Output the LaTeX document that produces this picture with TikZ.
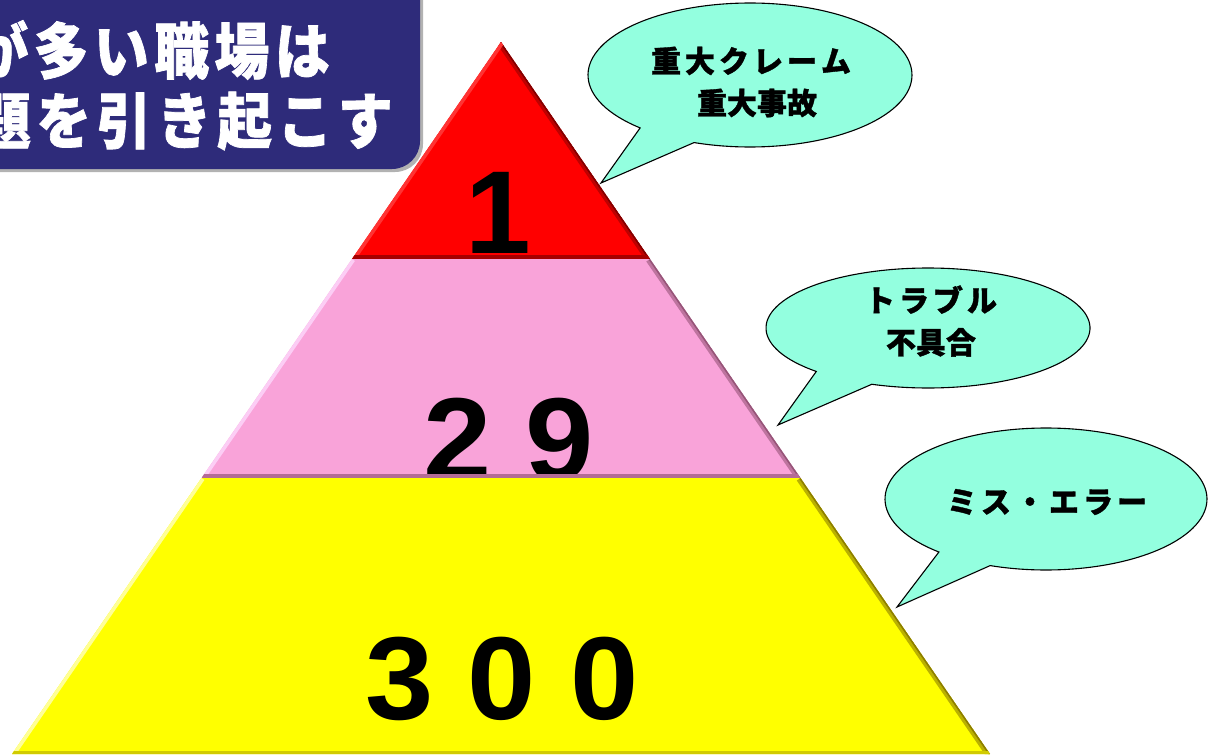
\documentclass[tikz,border=0pt]{standalone}
\usepackage{fontspec}
\newfontfamily\jpfont{Noto Sans CJK JP}[BoldFeatures={FakeBold=1.2}]
\newfontfamily\numfont{Liberation Sans}
\definecolor{boxblue}{RGB}{46,43,122}
\definecolor{calloutfill}{RGB}{147,255,223}
\definecolor{tierred}{RGB}{255,0,0}
\definecolor{tierpink}{RGB}{249,163,217}
\definecolor{tieryellow}{RGB}{255,255,0}
\definecolor{pinkdark}{RGB}{150,85,120}
\definecolor{pinklight}{RGB}{252,205,245}
\definecolor{yellowdark}{RGB}{140,125,0}
\definecolor{yellowlight}{RGB}{255,255,150}
\newdimen\chgap
\def\spacedtext#1{\spacedfirst#1\relax}
\def\spacedfirst#1{#1\spacedrest}
\def\spacedrest#1{\ifx#1\relax\else\kern\chgap#1\expandafter\spacedrest\fi}
\begin{document}
\begin{tikzpicture}[x=1pt,y=-1pt,
  callout/.style={fill=calloutfill, draw=black, line width=1.1pt, line join=miter},
  lbl/.style={font=\jpfont\bfseries\fontsize{30}{42}\selectfont, align=center, inner sep=0pt},
  title/.style={font=\jpfont\bfseries\fontsize{61}{70}\selectfont, text=white, inner sep=0pt},
  num/.style={font=\numfont\bfseries\fontsize{118}{120}\selectfont, inner sep=0pt, anchor=base}]
\useasboundingbox (0,0) rectangle (1216,755);
\fill[white] (0,0) rectangle (1216,755);

% title box
\fill[black!30, rounded corners=28pt] (-40,-40) rectangle (423,172);
\fill[boxblue, rounded corners=28pt] (-40,-40) rectangle (420,169);
\node[title, anchor=east] (t1) at (330,50) {\chgap=6pt\relax\scalebox{0.9}[1]{\spacedtext{が多い職場は}}};
\node[title, anchor=east] (t2) at (393,121) {\chgap=6pt\relax\scalebox{0.9}[1]{\spacedtext{題を引き起こす}}};

% pyramid
\coordinate (A) at (501,42);
\coordinate (L1) at (352,259);
\coordinate (R1) at (650,259);
\coordinate (L2) at (201.5,478);
\coordinate (R2) at (800.5,478);
\coordinate (L3) at (12,754);
\coordinate (R3) at (990,754);

\begin{scope}
  \clip (A) -- (L1) -- (R1) -- cycle;
  \fill[tierred] (A) -- (L1) -- (R1) -- cycle;
  \draw[line width=9pt, tierred!75!black] (A) -- (R1);
  \draw[line width=3pt, tierred!50!black] (A) -- (R1);
  \draw[line width=7pt, tierred!80!white] (A) -- (L1);
  \draw[line width=9pt, tierred!65!black] (L1) -- (R1);
\end{scope}
\node[num] (n1) at (498,253) {1};

\begin{scope}
  \clip (L1) -- (L2) -- (R2) -- (R1) -- cycle;
  \fill[tierpink] (L1) -- (L2) -- (R2) -- (R1) -- cycle;
  \draw[line width=9pt, pinkdark!60!tierpink] (R1) -- (R2);
  \draw[line width=3pt, pinkdark] (R1) -- (R2);
  \draw[line width=7pt, pinklight] (L1) -- (L2);
\end{scope}
\node[num] (n29) at (509,480) {\scalebox{1.04}[1]{2 9}};
\begin{scope}
  \clip (L1) -- (L2) -- (R2) -- (R1) -- cycle;
  \draw[line width=9pt, pinkdark!70!tierpink] (L2) -- (R2);
\end{scope}

\begin{scope}
  \clip (L2) -- (L3) -- (R3) -- (R2) -- cycle;
  \fill[tieryellow] (L2) -- (L3) -- (R3) -- (R2) -- cycle;
  \draw[line width=9pt, yellowdark!60!tieryellow] (R2) -- (R3);
  \draw[line width=3pt, yellowdark] (R2) -- (R3);
  \draw[line width=7pt, yellowlight] (L2) -- (L3);
  \draw[line width=7pt, yellowdark!40!tieryellow] (L3) -- (R3);
\end{scope}
\node[num] (n300) at (502,719) {\scalebox{1.04}[1]{3 0 0}};

% callouts
\coordinate (tip1) at (601,183);
\draw[callout] (750,75) ++(132.7:162 and 72) arc[start angle=132.7, end angle=470.2, x radius=162, y radius=72] -- (tip1) -- cycle;
\node[lbl] (c1) at (751,82) {\chgap=4pt\relax\spacedtext{重大クレーム}\\\hspace*{12pt}\spacedtext{重大事故}};

\coordinate (tip2) at (778,425);
\draw[callout] (928,328) ++(133.6:162 and 60) arc[start angle=133.6, end angle=470.3, x radius=162, y radius=60] -- (tip2) -- cycle;
\node[lbl] (c2) at (931,321) {\chgap=4pt\relax\spacedtext{トラブル}\\\spacedtext{不具合}};

\coordinate (tip3) at (897,607);
\draw[callout] (1046,499) ++(131.7:161 and 71) arc[start angle=131.7, end angle=470.3, x radius=161, y radius=71] -- (tip3) -- cycle;
\node[lbl] (c3) at (1047,502) {\chgap=4pt\relax\spacedtext{ミス・エラー}};
\end{tikzpicture}
\end{document}
